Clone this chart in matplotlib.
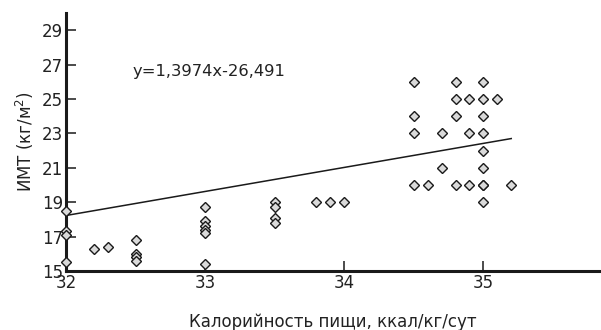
import numpy as np
import matplotlib.pyplot as plt

plt.rcParams['font.family'] = ['DejaVu Sans']

# калорийность пищи (ккал/кг/сут) и ИМТ (кг/м2)
kcal = [32.0, 32.0, 32.0, 32.0,
        32.2, 32.3,
        32.5, 32.5, 32.5, 32.5,
        33.0, 33.0, 33.0, 33.0, 33.0, 33.0,
        33.5, 33.5, 33.5, 33.5,
        33.8, 33.9, 34.0,
        34.5, 34.5, 34.5, 34.5,
        34.6,
        34.7, 34.7,
        34.8, 34.8, 34.8, 34.8,
        34.9, 34.9, 34.9,
        35.0, 35.0, 35.0, 35.0, 35.0, 35.0, 35.0, 35.0, 35.0,
        35.1, 35.2]
bmi = [18.5, 17.3, 17.1, 15.5,
       16.3, 16.4,
       16.8, 16.0, 15.8, 15.6,
       18.7, 17.9, 17.6, 17.4, 17.2, 15.4,
       19.0, 18.7, 18.1, 17.8,
       19.0, 19.0, 19.0,
       26.0, 24.0, 23.0, 20.0,
       20.0,
       23.0, 21.0,
       26.0, 25.0, 24.0, 20.0,
       25.0, 23.0, 20.0,
       26.0, 25.0, 24.0, 23.0, 22.0, 21.0, 20.0, 19.0, 20.0,
       25.0, 20.0]

slope, intercept = 1.3974, -26.491
fit_x = np.array([32.0, 35.2])

fig = plt.figure(figsize=(6.01, 3.30), dpi=100)
ax = fig.add_axes([0.1098, 0.1788, 0.889, 0.782])

ax.plot(fit_x, slope * fit_x + intercept, color='#1a1a1a', lw=1.1, zorder=2)
ax.plot(kcal, bmi, 'D', ms=5.6, mfc='#dadada', mec='#1a1a1a', mew=1.0,
        clip_on=False, zorder=3)

ax.text(32.48, 26.6, 'y=1,3974x-26,491', fontsize=11.8, color='#222222',
        va='center', ha='left')

ax.set_xlim(32, 35.84)
ax.set_ylim(15, 30.0)
ax.set_xticks([32, 33, 34, 35])
ax.set_yticks(range(15, 30, 2))

for side in ['top', 'right']:
    ax.spines[side].set_visible(False)
for side in ['left', 'bottom']:
    ax.spines[side].set_linewidth(2.2)
    ax.spines[side].set_color('#1a1a1a')

ax.tick_params(direction='in', length=7, width=1.1, color='#1a1a1a',
               labelsize=12, labelcolor='#222222', pad=2)

ax.set_xlabel('Калорийность пищи, ккал/кг/сут', fontsize=12,
              color='#222222', labelpad=15)
ax.set_ylabel('ИМТ (кг/м$^2$)', fontsize=12, color='#222222', labelpad=4)

fig.savefig('out.png', dpi=100)
